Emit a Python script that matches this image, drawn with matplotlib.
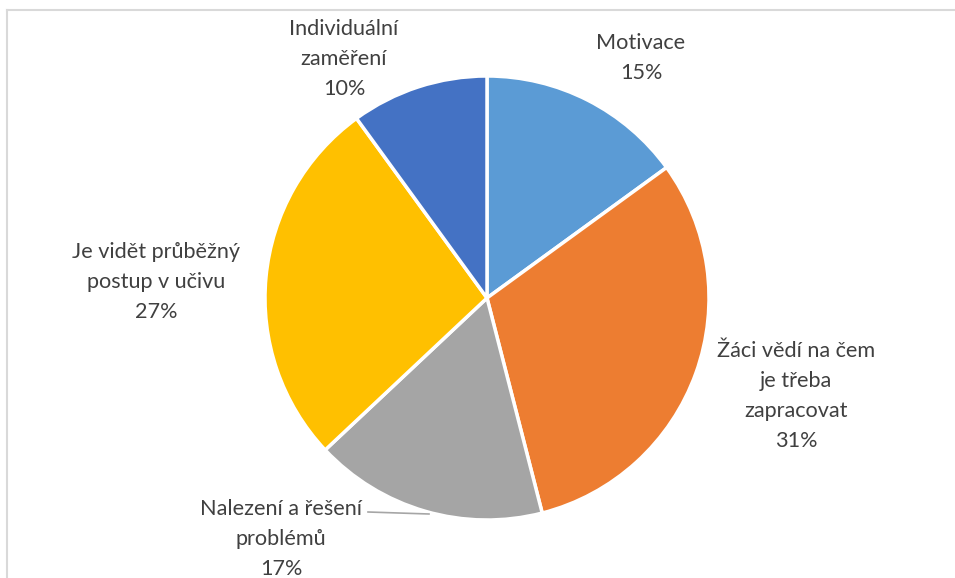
import matplotlib.pyplot as plt
from matplotlib.lines import Line2D

labels = ["Motivace", "Žáci vědí na čem\nje třeba\nzapracovat", "Nalezení a řešení\nproblémů",
          "Je vidět průběžný\npostup v učivu", "Individuální\nzaměření"]
values = [15, 31, 17, 27, 10]
colors = ["#5B9BD5", "#ED7D31", "#A5A5A5", "#FFC000", "#4472C4"]

W, H = 955, 578
fig = plt.figure(figsize=(W / 100, H / 100), dpi=100)
ax = fig.add_axes([0, 0, 1, 1])


def py(y):
    # pixel row from the top -> data y
    return H - y


ax.pie(values, colors=colors, startangle=90, counterclock=False,
       center=(487, py(298)), radius=222,
       wedgeprops=dict(edgecolor="white", linewidth=2.5))
# pie() resets the limits, so set them afterwards
ax.set_xlim(0, W)
ax.set_ylim(0, H)
ax.set_aspect("equal")
ax.axis("off")

# label block centres in pixels
label_pos = [(641, 58), (796, 396), (281, 539), (156, 282), (344, 59)]
for lab, v, (x, y) in zip(labels, values, label_pos):
    ax.text(x, py(y), f"{lab}\n{v}%", ha="center", va="center",
            fontsize=15.6, family="Lato", color="#404040", linespacing=1.62)

# leader line for the grey slice
ax.plot([368, 429], [py(512), py(514)], color="#A6A6A6", lw=1.2)

# chart frame (cropped on right and bottom)
fig.add_artist(Line2D([6.5 / W, 6.5 / W], [0, 1 - 10 / H], color="#D9D9D9", lw=1.5))
fig.add_artist(Line2D([6.5 / W, 1], [1 - 10 / H, 1 - 10 / H], color="#D9D9D9", lw=1.5))

fig.savefig("out.png", dpi=100)
